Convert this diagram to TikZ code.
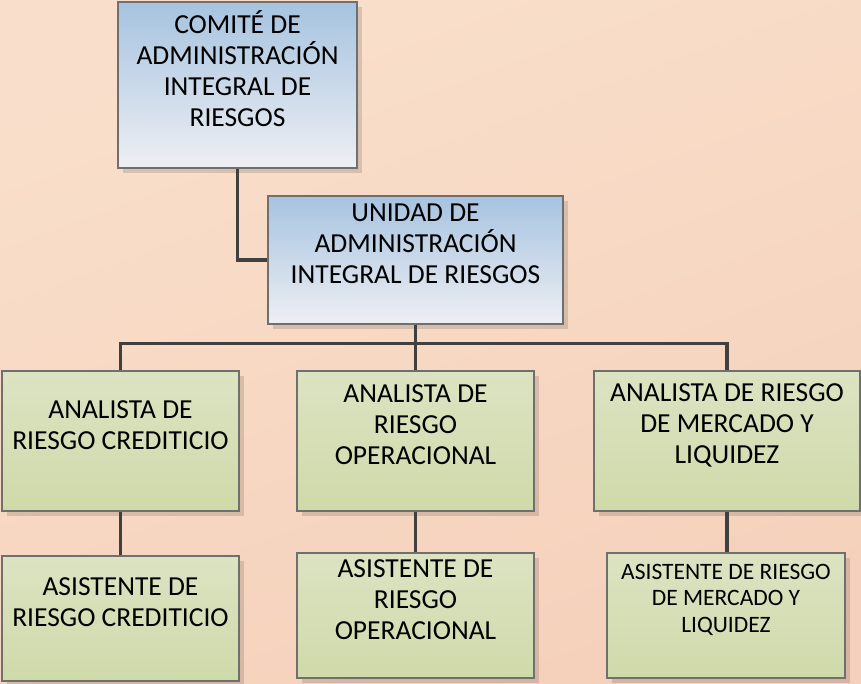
\documentclass[tikz,border=0pt]{standalone}
\usepackage{fontspec}
\setmainfont{Carlito}
\usetikzlibrary{positioning, shadows, calc}

\definecolor{bgtop}{HTML}{F9DFCB}
\definecolor{bgbot}{HTML}{F5D1BB}
\definecolor{bluetop}{HTML}{A6C3E0}
\definecolor{bluebot}{HTML}{EEEFF3}
\definecolor{greentop}{HTML}{DCE3C2}
\definecolor{greenbot}{HTML}{CFDAAA}
\definecolor{linkgray}{HTML}{404040}
\definecolor{framegray}{HTML}{6F6F6F}

\begin{document}
\begin{tikzpicture}[x=1pt, y=-1pt,
        font=\fontsize{27.5}{31}\selectfont,
        box/.style      = {rectangle, draw=framegray, line width=1.1pt, inner sep=0pt,
                           drop shadow={shadow xshift=5pt, shadow yshift=-5pt, opacity=0.13, fill=black}},
        bluebox/.style  = {box, top color=bluetop, bottom color=bluebot},
        greenbox/.style = {box, top color=greentop, bottom color=greenbot},
        caption/.style  = {align=center, yshift=16pt},
        link/.style     = {draw=linkgray, line width=3.6pt}
    ]

    % --- BACKGROUND ---
    \useasboundingbox (0,0) rectangle (861,683);
    \shade[shading=axis, top color=bgtop, bottom color=bgbot, shading angle=20] (0,0) rectangle (861,683);

    % --- TOP LEVEL ---
    \node[bluebox, minimum width=239pt, minimum height=166pt,
          label={[caption]center:{COMITÉ DE\\ADMINISTRACIÓN\\INTEGRAL DE\\RIESGOS}}] (comite) at (237.5,85) {};

    \node[bluebox, minimum width=295pt, minimum height=128pt,
          label={[caption]center:{UNIDAD DE\\ADMINISTRACIÓN\\INTEGRAL DE RIESGOS}}] (unidad) at (415.5,260) {};

    % --- ANALISTAS ---
    \node[greenbox, minimum width=237pt, minimum height=140pt,
          label={[caption]center:{ANALISTA DE\\RIESGO CREDITICIO}}] (ana_cred) at (120.5,441) {};
    \node[greenbox, minimum width=237pt, minimum height=140pt,
          label={[caption]center:{ANALISTA DE\\RIESGO\\OPERACIONAL}}] (ana_oper) at (415.5,441) {};
    \node[greenbox, minimum width=266pt, minimum height=140pt,
          label={[caption]center:{ANALISTA DE RIESGO\\DE MERCADO Y\\LIQUIDEZ}}] (ana_merc) at (727,441) {};

    % --- ASISTENTES ---
    \node[greenbox, minimum width=237pt, minimum height=125pt,
          label={[caption]center:{ASISTENTE DE\\RIESGO CREDITICIO}}] (asi_cred) at (120.5,618.5) {};
    \node[greenbox, minimum width=237pt, minimum height=125pt,
          label={[caption]center:{ASISTENTE DE\\RIESGO\\OPERACIONAL}}] (asi_oper) at (415.5,615.5) {};
    \node[greenbox, minimum width=238pt, minimum height=125pt,
          label={[caption, font=\fontsize{23.5}{26.5}\selectfont]center:{ASISTENTE DE RIESGO\\DE MERCADO Y\\LIQUIDEZ}}] (asi_merc) at (726,615.5) {};

    % --- CONNECTORS ---
    \coordinate (bus) at ($(unidad.south)+(0,19)$);
    \draw[link] (comite.south) |- (unidad.west);
    \draw[link] (unidad.south) -- (ana_oper.north);
    \draw[link] (ana_cred.north) |- (bus) -| (ana_merc.north);
    \draw[link] (ana_cred.south) -- (asi_cred.north);
    \draw[link] (ana_oper.south) -- (asi_oper.north);
    \draw[link] (ana_merc.south) -- (ana_merc.south |- asi_merc.north);

\end{tikzpicture}
\end{document}
